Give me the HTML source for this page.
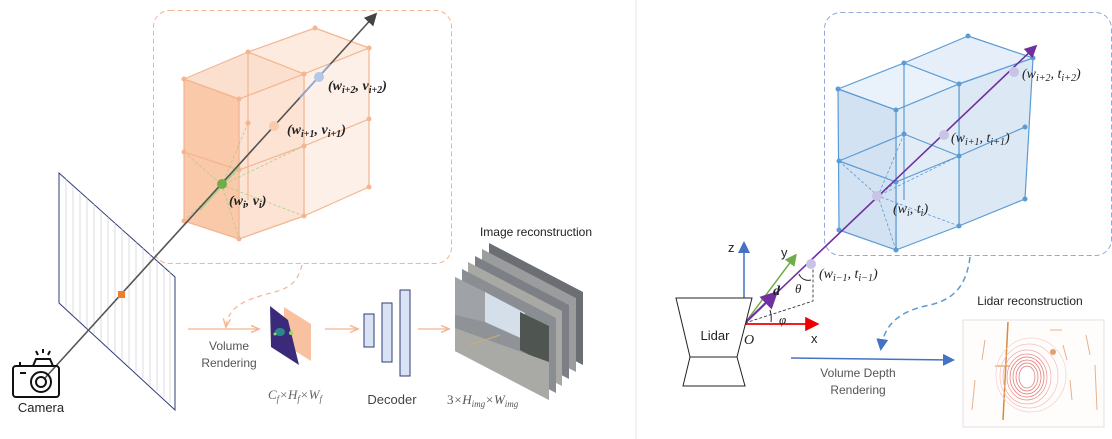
<!DOCTYPE html>
<html><head><meta charset="utf-8"><style>
html,body{margin:0;padding:0;background:#fff;}
svg{display:block;}
text{font-family:"Liberation Sans",sans-serif;}
.m{font-family:"Liberation Serif","DejaVu Serif",serif;font-style:italic;}
</style></head><body>
<svg width="1112" height="439" viewBox="0 0 1112 439" xmlns="http://www.w3.org/2000/svg">
<defs>
<marker id="ag" markerWidth="8" markerHeight="8" refX="6" refY="4" orient="auto"><path d="M0,0 L8,4 L0,8 z" fill="#444"/></marker>
<marker id="ao" markerWidth="8" markerHeight="8" refX="6" refY="4" orient="auto"><path d="M0,1 L7,4 L0,7" fill="none" stroke="#f4b590" stroke-width="1.2"/></marker>
<marker id="ab" markerWidth="8" markerHeight="8" refX="6" refY="4" orient="auto"><path d="M0,0 L8,4 L0,8 z" fill="#4472c4"/></marker>
<marker id="ap" markerWidth="8" markerHeight="8" refX="6" refY="4" orient="auto"><path d="M0,0 L8,4 L0,8 z" fill="#7030a0"/></marker>
<marker id="ar" markerWidth="8" markerHeight="8" refX="6" refY="4" orient="auto"><path d="M0,0 L8,4 L0,8 z" fill="#e00"/></marker>
<marker id="agr" markerWidth="8" markerHeight="8" refX="6" refY="4" orient="auto"><path d="M0,0 L8,4 L0,8 z" fill="#70ad47"/></marker>
<marker id="az" markerWidth="8" markerHeight="8" refX="6" refY="4" orient="auto"><path d="M0,0 L8,4 L0,8 z" fill="#4472c4"/></marker>
</defs>

<line x1="636" y1="0" x2="636" y2="439" stroke="#e6e6e6" stroke-width="1"/>

<rect x="153.5" y="10.5" width="298" height="253" rx="16" fill="none" stroke="#f4b590" stroke-width="1" stroke-dasharray="5,3"/>

<polygon points="59,173 175,277 175,410 59,303" fill="#fff" stroke="#2f3e7a" stroke-width="1"/>
<g stroke="#c8c8d0" stroke-width="0.6">
<line x1="66" y1="179" x2="66" y2="309"/><line x1="73" y1="186" x2="73" y2="315"/><line x1="80" y1="192" x2="80" y2="322"/><line x1="87" y1="198" x2="87" y2="328"/><line x1="94" y1="204" x2="94" y2="334"/><line x1="101" y1="211" x2="101" y2="341"/><line x1="108" y1="217" x2="108" y2="347"/><line x1="115" y1="223" x2="115" y2="353"/><line x1="122" y1="229" x2="122" y2="359"/><line x1="129" y1="236" x2="129" y2="366"/><line x1="136" y1="242" x2="136" y2="372"/><line x1="143" y1="248" x2="143" y2="378"/><line x1="150" y1="254" x2="150" y2="385"/><line x1="157" y1="261" x2="157" y2="391"/><line x1="164" y1="267" x2="164" y2="397"/><line x1="170" y1="272" x2="170" y2="403"/>
</g>

<g stroke="#f4b590" stroke-width="1.2" stroke-linejoin="round">
<polygon points="248,52 315,28 369,48 304,74" fill="#fdebe0"/>
<polygon points="304,74 369,48 369,187 304,216" fill="#fdf0e8"/>
<polygon points="239,99 304,74 304,216 239,239" fill="#fce3d4"/>
<polygon points="184,79 248,52 304,74 239,99" fill="#fbe0cf"/>
<polygon points="184,79 239,99 239,239 184,221" fill="#f9c9a9"/>
<line x1="248" y1="52" x2="248" y2="200"/>
<line x1="184" y1="152" x2="239" y2="170"/>
<line x1="239" y1="170" x2="304" y2="146"/>
<line x1="304" y1="146" x2="369" y2="119"/>
</g>
<g stroke="#a8d08d" stroke-width="0.8" stroke-dasharray="3,2" fill="none">
<line x1="184" y1="152" x2="222" y2="185"/><line x1="239" y1="170" x2="222" y2="185"/><line x1="248" y1="123" x2="222" y2="185"/><line x1="304" y1="146" x2="222" y2="185"/><line x1="184" y1="221" x2="222" y2="185"/><line x1="239" y1="239" x2="222" y2="185"/><line x1="304" y1="216" x2="222" y2="185"/>
</g>
<g fill="#f4b590">
<circle cx="184" cy="79" r="2.5"/><circle cx="239" cy="99" r="2.5"/><circle cx="248" cy="52" r="2.5"/><circle cx="304" cy="74" r="2.5"/><circle cx="315" cy="28" r="2.5"/><circle cx="369" cy="48" r="2.5"/><circle cx="184" cy="152" r="2.5"/><circle cx="239" cy="170" r="2.5"/><circle cx="304" cy="146" r="2.5"/><circle cx="369" cy="119" r="2.5"/><circle cx="184" cy="221" r="2.5"/><circle cx="239" cy="239" r="2.5"/><circle cx="304" cy="216" r="2.5"/><circle cx="369" cy="187" r="2.5"/><circle cx="248" cy="123" r="2.5"/>
</g>

<line x1="45" y1="378" x2="375" y2="15" stroke="#555" stroke-width="1.6" marker-end="url(#ag)"/>
<line x1="200" y1="210" x2="240" y2="166" stroke="#a9d18e" stroke-width="1.6"/>
<line x1="300" y1="98" x2="330" y2="64" stroke="#8faadc" stroke-width="1.6"/>
<rect x="118" y="291" width="7" height="7" fill="#ed7d31"/>
<circle cx="222" cy="184" r="5" fill="#70ad47"/>
<circle cx="274" cy="126" r="5" fill="#f8cbad"/>
<circle cx="319" cy="77" r="5" fill="#b4c7e7"/>
<text x="328" y="90" class="m" font-size="14" font-weight="bold" fill="#222">(w<tspan font-size="10" dy="3">i+2</tspan><tspan dy="-3">, v</tspan><tspan font-size="10" dy="3">i+2</tspan><tspan dy="-3">)</tspan></text>
<text x="287" y="134" class="m" font-size="14" font-weight="bold" fill="#222">(w<tspan font-size="10" dy="3">i+1</tspan><tspan dy="-3">, v</tspan><tspan font-size="10" dy="3">i+1</tspan><tspan dy="-3">)</tspan></text>
<text x="229" y="205" class="m" font-size="14" font-weight="bold" fill="#222">(w<tspan font-size="10" dy="3">i</tspan><tspan dy="-3">, v</tspan><tspan font-size="10" dy="3">i</tspan><tspan dy="-3">)</tspan></text>

<g fill="none" stroke="#111" stroke-width="2">
<rect x="13" y="366" width="46" height="31" rx="3"/>
<circle cx="41" cy="382" r="10"/><circle cx="41" cy="382" r="5"/>
<path d="M33,366 L36,359 L50,359 L53,366"/>
<line x1="20" y1="373" x2="26" y2="373"/>
<line x1="20" y1="366" x2="20" y2="362"/>
<line x1="38" y1="355" x2="36" y2="351"/><line x1="43" y1="353" x2="43" y2="349"/><line x1="48" y1="355" x2="50" y2="351"/>
</g>
<text x="41" y="412" font-size="13" text-anchor="middle" fill="#222">Camera</text>

<path d="M302,265 C296,290 280,290 260,296 C240,302 228,310 226,326" fill="none" stroke="#f4b590" stroke-width="1.2" stroke-dasharray="5,4" marker-end="url(#ao)"/>
<line x1="188" y1="329" x2="258" y2="329" stroke="#f4b590" stroke-width="1.2" marker-end="url(#ao)"/>
<text x="229" y="350" font-size="12" text-anchor="middle" fill="#555">Volume</text>
<text x="229" y="367" font-size="12" text-anchor="middle" fill="#555">Rendering</text>
<polygon points="284,307 311,324 311,361 284,344" fill="#f8c2a0"/>
<polygon points="270,306 288,320 299,365 271,347" fill="#3b2a7a"/>
<ellipse cx="280" cy="332" rx="5" ry="4" fill="#2a8a8a"/><circle cx="291" cy="333" r="2" fill="#8fdc5a"/><circle cx="275" cy="334" r="1.5" fill="#8fdc5a"/>
<text x="295" y="399" class="m" font-size="13" text-anchor="middle" fill="#666">C<tspan font-size="9" dy="3">f</tspan><tspan dy="-3">×H</tspan><tspan font-size="9" dy="3">f</tspan><tspan dy="-3">×W</tspan><tspan font-size="9" dy="3">f</tspan></text>
<line x1="325" y1="329" x2="357" y2="329" stroke="#f4b590" stroke-width="1.2" marker-end="url(#ao)"/>
<g fill="#dae3f3" stroke="#2f3e7a" stroke-width="1">
<rect x="364" y="314" width="10" height="33"/><rect x="382" y="303" width="10" height="59"/><rect x="400" y="290" width="10" height="86"/>
</g>
<text x="392" y="404" font-size="13" text-anchor="middle" fill="#444">Decoder</text>
<line x1="418" y1="329" x2="448" y2="329" stroke="#f4b590" stroke-width="1.2" marker-end="url(#ao)"/>

<g>
<polygon points="489,243 583,292 583,365 489,316" fill="#6b6e72"/>
<polygon points="482,249 576,298 576,372 482,323" fill="#9a9c9e"/>
<polygon points="475,256 569,305 569,379 475,330" fill="#7c8086"/>
<polygon points="468,262 562,311 562,386 468,337" fill="#a8a8a4"/>
<polygon points="462,269 556,318 556,393 462,344" fill="#8a8e92"/>
<polygon points="455,277 549,326 549,400 455,351" fill="#8f9296"/>
<polygon points="485,292 525,313 525,340 485,322" fill="#d4dfea"/>
<polygon points="455,277 485,292 485,322 455,315" fill="#9fa3a8"/>
<polygon points="520,312 549,326 549,365 520,350" fill="#4f5550"/>
<polygon points="455,328 549,362 549,400 455,351" fill="#a9a9a5"/>
<line x1="470" y1="345" x2="500" y2="335" stroke="#c9b070" stroke-width="1"/>
</g>
<text x="536" y="236" font-size="12" text-anchor="middle" fill="#222">Image reconstruction</text>
<text x="447" y="404" class="m" font-size="13" fill="#555"><tspan font-style="normal">3</tspan>×H<tspan font-size="9" dy="3">img</tspan><tspan dy="-3">×W</tspan><tspan font-size="9" dy="3">img</tspan></text>

<rect x="824.5" y="12.5" width="287" height="243" rx="16" fill="none" stroke="#8faadc" stroke-width="1" stroke-dasharray="5,3"/>
<g stroke="#5b9bd5" stroke-width="1.2" stroke-linejoin="round">
<polygon points="904,63 968,36 1033,58 959,84" fill="#e6eff9"/>
<polygon points="959,84 1033,58 1025,199 959,226" fill="#dde8f5"/>
<polygon points="838,89 904,63 959,84 896,110" fill="#e9f1fa"/>
<polygon points="896,110 959,84 959,226 896,250" fill="#e2ecf7"/>
<polygon points="838,89 896,110 896,250 839,230" fill="#d3e2f2"/>
<line x1="904" y1="63" x2="904" y2="200"/>
<line x1="839" y1="161" x2="896" y2="182"/><line x1="896" y1="182" x2="959" y2="156"/><line x1="959" y1="156" x2="1025" y2="127"/><line x1="839" y1="161" x2="904" y2="134"/><line x1="904" y1="134" x2="959" y2="156"/>
</g>
<g stroke="#5b9bd5" stroke-width="0.8" stroke-dasharray="3,2">
<line x1="839" y1="161" x2="878" y2="196"/><line x1="904" y1="134" x2="878" y2="196"/><line x1="896" y1="250" x2="878" y2="196"/><line x1="959" y1="226" x2="878" y2="196"/><line x1="896" y1="182" x2="878" y2="196"/><line x1="959" y1="156" x2="878" y2="196"/>
</g>
<g fill="#5b9bd5">
<circle cx="838" cy="89" r="2.5"/><circle cx="904" cy="63" r="2.5"/><circle cx="968" cy="36" r="2.5"/><circle cx="1033" cy="58" r="2.5"/><circle cx="959" cy="84" r="2.5"/><circle cx="896" cy="110" r="2.5"/><circle cx="839" cy="161" r="2.5"/><circle cx="896" cy="182" r="2.5"/><circle cx="959" cy="156" r="2.5"/><circle cx="1025" cy="127" r="2.5"/><circle cx="904" cy="134" r="2.5"/><circle cx="839" cy="230" r="2.5"/><circle cx="896" cy="250" r="2.5"/><circle cx="959" cy="226" r="2.5"/><circle cx="1025" cy="199" r="2.5"/>
</g>
<line x1="744" y1="323" x2="744" y2="244" stroke="#4472c4" stroke-width="1.5" marker-end="url(#az)"/>
<line x1="745" y1="323" x2="795" y2="256" stroke="#70ad47" stroke-width="1.5" marker-end="url(#agr)"/>
<line x1="745" y1="324" x2="816" y2="324" stroke="#e00" stroke-width="1.8" marker-end="url(#ar)"/>
<line x1="745" y1="323" x2="1035" y2="47" stroke="#7030a0" stroke-width="1.6" marker-end="url(#ap)"/>
<line x1="745" y1="323" x2="775" y2="294" stroke="#7030a0" stroke-width="2.2" marker-end="url(#ap)"/>
<polyline points="745,323 813,301 813,267" fill="none" stroke="#222" stroke-width="0.8" stroke-dasharray="3,2"/>
<path d="M770,310 A28,28 0 0 1 771,322" fill="none" stroke="#222" stroke-width="1"/>
<path d="M799,274 A10,10 0 0 0 811,280" fill="none" stroke="#222" stroke-width="1"/>
<g fill="#c9c3e6"><circle cx="811" cy="264" r="5"/><circle cx="877" cy="196" r="5"/><circle cx="944" cy="135" r="5"/><circle cx="1014" cy="72" r="5"/></g>
<text x="728" y="252" font-size="13" fill="#222">z</text>
<text x="781" y="257" font-size="13" fill="#222">y</text>
<text x="811" y="343" font-size="13" fill="#222">x</text>
<text x="773" y="295" class="m" font-size="14" font-weight="bold" fill="#222">d</text>
<text x="795" y="293" class="m" font-size="13" fill="#222">θ</text>
<text x="779" y="324" class="m" font-size="13" fill="#222">φ</text>
<text x="744" y="344" class="m" font-size="14" fill="#222">O</text>
<text x="819" y="278" class="m" font-size="14" fill="#222">(w<tspan font-size="10" dy="3">i−1</tspan><tspan dy="-3">, t</tspan><tspan font-size="10" dy="3">i−1</tspan><tspan dy="-3">)</tspan></text>
<text x="893" y="213" class="m" font-size="14" fill="#222">(w<tspan font-size="10" dy="3">i</tspan><tspan dy="-3">, t</tspan><tspan font-size="10" dy="3">i</tspan><tspan dy="-3">)</tspan></text>
<text x="951" y="142" class="m" font-size="14" fill="#222">(w<tspan font-size="10" dy="3">i+1</tspan><tspan dy="-3">, t</tspan><tspan font-size="10" dy="3">i+1</tspan><tspan dy="-3">)</tspan></text>
<text x="1022" y="78" class="m" font-size="14" fill="#222">(w<tspan font-size="10" dy="3">i+2</tspan><tspan dy="-3">, t</tspan><tspan font-size="10" dy="3">i+2</tspan><tspan dy="-3">)</tspan></text>

<g fill="#fff" stroke="#222" stroke-width="1">
<polygon points="676,298 752,298 737,357 690,357"/>
<polygon points="690,357 737,357 745,386 683,386"/>
</g>
<text x="715" y="340" font-size="13" text-anchor="middle" fill="#222">Lidar</text>

<path d="M970,257 C966,290 950,300 930,305 C905,310 885,320 881,348" fill="none" stroke="#5b9bd5" stroke-width="1.5" stroke-dasharray="6,4" marker-end="url(#ab)"/>
<line x1="791" y1="358" x2="952" y2="360" stroke="#4472c4" stroke-width="1.5" marker-end="url(#ab)"/>
<text x="858" y="377" font-size="12" text-anchor="middle" fill="#555">Volume Depth</text>
<text x="858" y="394" font-size="12" text-anchor="middle" fill="#555">Rendering</text>
<text x="1030" y="305" font-size="12" text-anchor="middle" fill="#222">Lidar reconstruction</text>

<rect x="963" y="320" width="141" height="107" fill="#fffdfb" stroke="#e0e0e0" stroke-width="1"/>
<line x1="1008" y1="322" x2="1003" y2="420" stroke="#d98c3a" stroke-width="1.5"/>
<line x1="995" y1="366" x2="1010" y2="366" stroke="#d98c3a" stroke-width="1"/>
<g fill="none" stroke="#e07070" stroke-width="0.7">
<ellipse cx="1027" cy="377" rx="8" ry="11" fill="#fff"/>
<ellipse cx="1027" cy="377" rx="11" ry="14"/><ellipse cx="1027" cy="377" rx="14" ry="17"/><ellipse cx="1027" cy="377" rx="17" ry="20"/><ellipse cx="1027" cy="377" rx="20" ry="23" stroke="#e89090"/><ellipse cx="1027" cy="377" rx="24" ry="27" stroke="#eeaaaa"/><ellipse cx="1029" cy="376" rx="29" ry="32" stroke="#f2c0c0"/><ellipse cx="1031" cy="375" rx="35" ry="37" stroke="#f5d0d0"/>
</g>
<g stroke="#e8b08a" stroke-width="1" fill="none">
<line x1="1063" y1="345" x2="1067" y2="360"/><line x1="1070" y1="380" x2="1072" y2="400"/><line x1="1086" y1="335" x2="1090" y2="355"/><line x1="1095" y1="365" x2="1097" y2="410"/><line x1="975" y1="380" x2="972" y2="410"/><line x1="985" y1="340" x2="982" y2="360"/><line x1="1050" y1="330" x2="1062" y2="330"/>
</g>
<circle cx="1053" cy="352" r="3" fill="#e0a070"/>
</svg>
</body></html>
